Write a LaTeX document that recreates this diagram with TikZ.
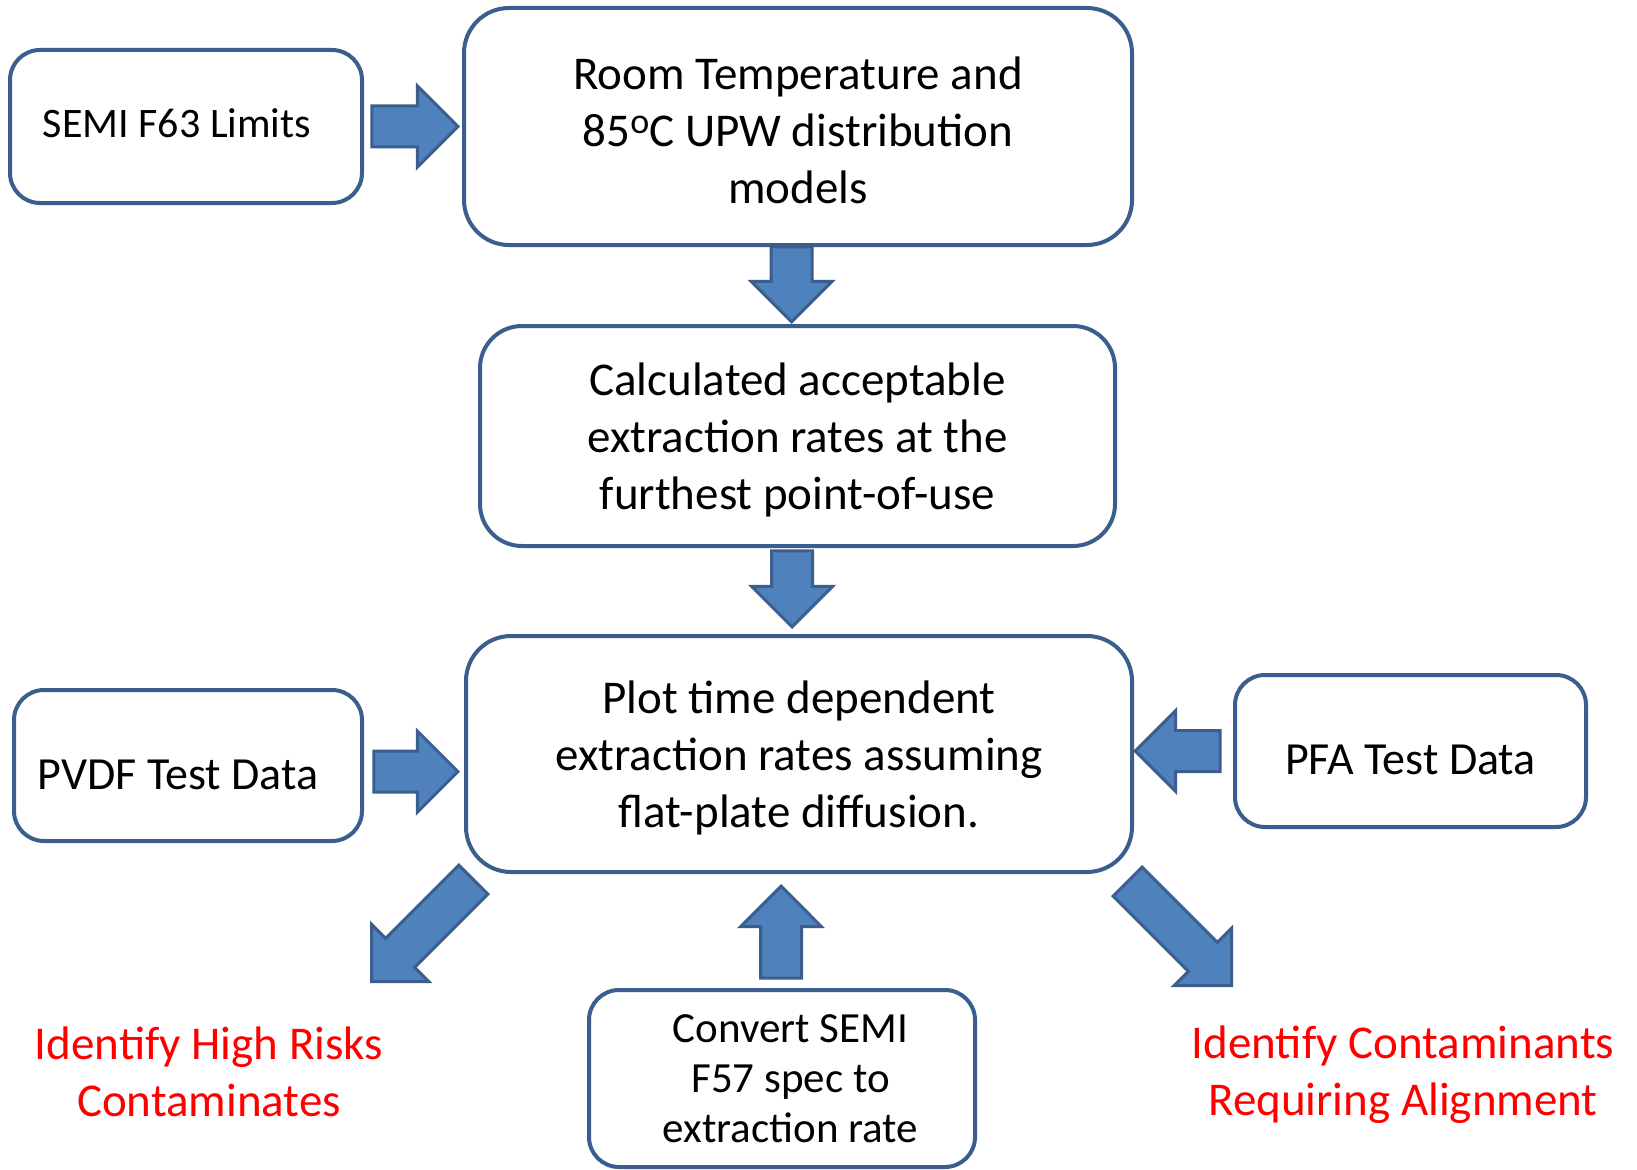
\documentclass[tikz,border=0pt]{standalone}
\usepackage{fontspec}
\setmainfont{Carlito}
\usetikzlibrary{shapes.arrows,calc,positioning}
\definecolor{boxline}{HTML}{3A5F8E}
\definecolor{arrowfill}{HTML}{4F81BD}
\definecolor{arrowline}{HTML}{3A5F8E}
\definecolor{outred}{HTML}{FF0000}
\newcommand{\topgap}{\rule{0pt}{41pt}}
\newcommand{\nudge}[1]{\hspace*{#1}}
\newcommand{\degsign}{\raisebox{13pt}{\fontsize{36}{36}\selectfont o}}
\tikzset{
  stepbox/.style={draw=boxline, line width=4pt, rounded corners=30pt, align=center,
    fill=white, font=\fontsize{47}{57}\selectfont},
  fatarrow/.style={single arrow, draw=arrowline, fill=arrowfill, line width=3pt,
    inner xsep=0pt, inner ysep=19pt, single arrow head extend=20pt,
    single arrow tip angle=90, single arrow head indent=0pt, anchor=tip},
  outcome/.style={text=outred, align=center, font=\fontsize{47}{57}\selectfont}
}

\begin{document}
\begin{tikzpicture}[x=1pt, y=-1pt]
\useasboundingbox (0,0) rectangle (1637,1169);
% process boxes
\node[stepbox, minimum width=668, minimum height=237, rounded corners=45pt] (room) at (798,126.5)
  {\topgap Room Temperature and\\85\degsign C UPW distribution\\models};
\node[stepbox, minimum width=352, minimum height=153, text depth=7pt, font=\fontsize{42}{51}\selectfont] (semi) at (186,126.5)
  {SEMI F63 Limits\nudge{18pt}};
\node[stepbox, minimum width=635, minimum height=220, rounded corners=42pt] (calc) at (797.5,436)
  {\topgap Calculated acceptable\\extraction rates at the\\furthest point-of-use};
\node[stepbox, minimum width=666, minimum height=236, rounded corners=45pt] (plot) at (799,754)
  {\topgap Plot time dependent\\extraction rates assuming\\flat-plate diffusion.};
\node[stepbox, minimum width=348, minimum height=151, text height=47pt, text depth=0pt, font=\fontsize{46}{55}\selectfont] (pvdf) at (188,765.5)
  {PVDF Test Data\nudge{20pt}};
\node[stepbox, minimum width=351, minimum height=152, text height=47pt, text depth=0pt, font=\fontsize{46}{55}\selectfont] (pfa) at (1410.5,751)
  {PFA Test Data};
\node[stepbox, minimum width=386, minimum height=177, font=\fontsize{43}{50}\selectfont] (convert) at (782,1078.5)
  {\nudge{17pt}Convert SEMI\\\nudge{17pt}F57 spec to\\\nudge{17pt}extraction rate};
% outcomes
\node[outcome] (risks) at (209,1072) {Identify High Risks\\Contaminates};
\node[outcome] (align) at (1403,1075) {Identify Contaminants\\Requiring Alignment};
% block arrows
\node[fatarrow, minimum height=86] (a1) at ($(room.west |- semi.east)+(-2,0)$) {};
\node[fatarrow, minimum height=75, rotate=-90] (a2) at ($(calc.north)+(-6,0)$) {};
\node[fatarrow, minimum height=76, rotate=-90] (a3) at ($(plot.north)+(-7,-5)$) {};
\node[fatarrow, minimum height=84] (a4) at ($(plot.west |- pvdf.east)+(-4,6)$) {};
\node[fatarrow, minimum height=85, rotate=180] (a5) at ($(plot.east |- pfa.west)+(-1,0)$) {};
\node[fatarrow, minimum height=92, rotate=90] (a6) at ($(plot.south -| convert.north)+(-1,10)$) {};
\node[fatarrow, minimum height=144, rotate=-135] (a7) at ($(plot.south west)+(-94,109)$) {};
\node[fatarrow, minimum height=147, rotate=-45] (a8) at ($(plot.south east)+(99,113)$) {};
\end{tikzpicture}
\end{document}
